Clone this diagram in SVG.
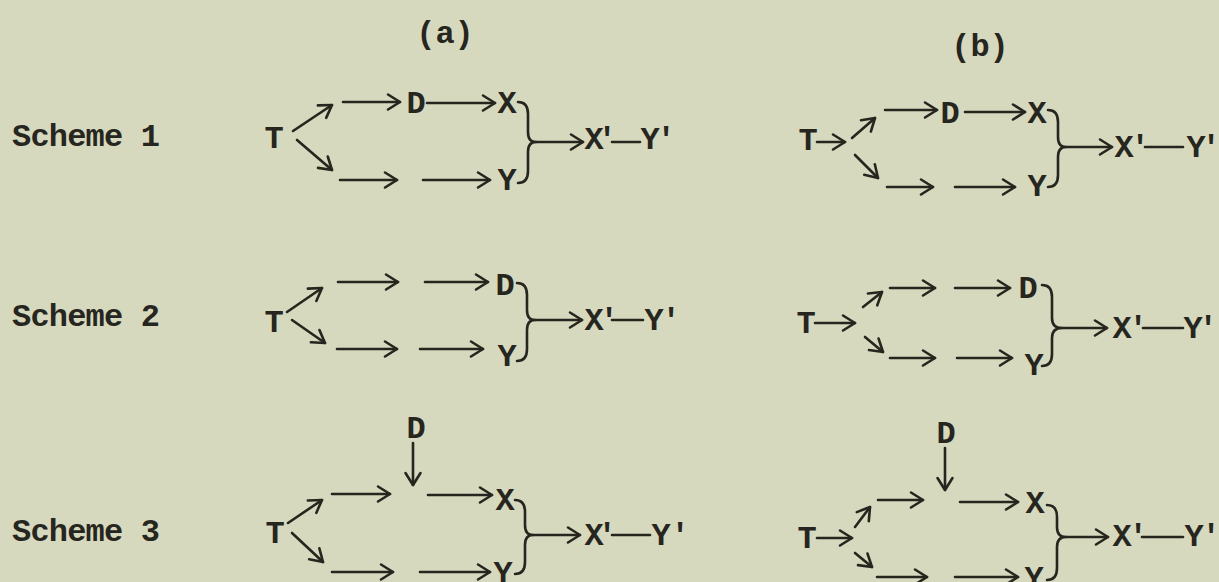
<svg xmlns="http://www.w3.org/2000/svg" width="1219" height="582" viewBox="0 0 1219 582">
<style>
text{font-family:"Liberation Mono","DejaVu Sans Mono",monospace;font-size:32px;font-weight:bold;fill:#26261f}
.n{text-anchor:middle}
.l{letter-spacing:-0.8px}
.c{stroke:#26261f;stroke-width:2.6;fill:none;stroke-linecap:round;stroke-linejoin:round}
.a{marker-end:url(#ah)}
</style>
<defs>
<marker id="ah" markerUnits="userSpaceOnUse" viewBox="-14 -10 16 20" markerWidth="16" markerHeight="20" refX="0" refY="0" orient="auto" overflow="visible">
<path d="M-12,-7.5 L0,0 L-12,7.5" fill="none" stroke="#26261f" stroke-width="2.6" stroke-linecap="round" stroke-linejoin="round"/>
</marker>
</defs>
<rect width="1219" height="582" fill="#d6d9be"/>
<g id="headers">
<text class="n" x="445" y="43">(a)</text>
<text class="n" x="980" y="56">(b)</text>
</g>
<g id="labels">
<text class="l" x="12" y="146">Scheme 1</text>
<text class="l" x="12" y="326">Scheme 2</text>
<text class="l" x="12" y="541">Scheme 3</text>
</g>
<!-- Scheme 1 (a) -->
<g id="s1a-T"><text class="n" x="274" y="148">T</text></g>
<g id="s1a-D"><text class="n" x="416" y="113">D</text></g>
<g id="s1a-X"><text class="n" x="507" y="113">X</text></g>
<g id="s1a-Y"><text class="n" x="507" y="190">Y</text></g>
<g id="s1a-XY"><text class="n"><tspan x="594" y="149">X</tspan><tspan x="607" y="149">'</tspan><tspan x="650" y="149">Y</tspan><tspan x="666" y="149">'</tspan></text></g>
<!-- Scheme 1 (b) -->
<g id="s1b-T"><text class="n" x="808" y="150">T</text></g>
<g id="s1b-D"><text class="n" x="950" y="123">D</text></g>
<g id="s1b-X"><text class="n" x="1037" y="123">X</text></g>
<g id="s1b-Y"><text class="n" x="1037" y="196">Y</text></g>
<g id="s1b-XY"><text class="n"><tspan x="1124" y="157">X</tspan><tspan x="1140" y="157">'</tspan><tspan x="1196" y="157">Y</tspan><tspan x="1211" y="157">'</tspan></text></g>
<!-- Scheme 2 (a) -->
<g id="s2a-T"><text class="n" x="274" y="332">T</text></g>
<g id="s2a-D"><text class="n" x="505" y="295">D</text></g>
<g id="s2a-Y"><text class="n" x="507" y="366">Y</text></g>
<g id="s2a-XY"><text class="n"><tspan x="594" y="330">X</tspan><tspan x="609" y="330">'</tspan><tspan x="654" y="330">Y</tspan><tspan x="671" y="330">'</tspan></text></g>
<!-- Scheme 2 (b) -->
<g id="s2b-T"><text class="n" x="806" y="333">T</text></g>
<g id="s2b-D"><text class="n" x="1028" y="298">D</text></g>
<g id="s2b-Y"><text class="n" x="1034" y="375">Y</text></g>
<g id="s2b-XY"><text class="n"><tspan x="1122" y="338">X</tspan><tspan x="1138" y="338">'</tspan><tspan x="1193" y="338">Y</tspan><tspan x="1208" y="338">'</tspan></text></g>
<!-- Scheme 3 (a) -->
<g id="s3a-D"><text class="n" x="416" y="438">D</text></g>
<g id="s3a-X"><text class="n" x="505" y="510">X</text></g>
<g id="s3a-T"><text class="n" x="275" y="543">T</text></g>
<g id="s3a-Y"><text class="n" x="503" y="583">Y</text></g>
<g id="s3a-XY"><text class="n"><tspan x="594" y="545">X</tspan><tspan x="607" y="545">'</tspan><tspan x="661" y="545">Y</tspan><tspan x="680" y="545">'</tspan></text></g>
<!-- Scheme 3 (b) -->
<g id="s3b-D"><text class="n" x="946" y="443">D</text></g>
<g id="s3b-X"><text class="n" x="1035" y="513">X</text></g>
<g id="s3b-T"><text class="n" x="807" y="548">T</text></g>
<g id="s3b-Y"><text class="n" x="1034" y="588">Y</text></g>
<g id="s3b-XY"><text class="n"><tspan x="1122" y="546">X</tspan><tspan x="1138" y="546">'</tspan><tspan x="1194" y="546">Y</tspan><tspan x="1211" y="546">'</tspan></text></g>
<g id="connectors" class="c">
<!-- S1a -->
<line class="a" x1="293" y1="131" x2="332" y2="105"/>
<line class="a" x1="297" y1="140" x2="332" y2="170"/>
<line class="a" x1="343" y1="102" x2="400" y2="102"/>
<line class="a" x1="427" y1="103" x2="495" y2="103"/>
<line class="a" x1="340" y1="180" x2="397" y2="180"/>
<line class="a" x1="423" y1="180" x2="490" y2="180"/>
<path d="M518,102 Q528,102 528,114 L528,132 Q528,142 536,142 Q528,142 528,152 L528,171 Q528,183 518,183"/>
<line class="a" x1="536" y1="142" x2="583" y2="142"/>
<line x1="612" y1="142" x2="640" y2="142"/>
<!-- S1b -->
<line class="a" x1="817" y1="142" x2="845" y2="142"/>
<line class="a" x1="852" y1="138" x2="875" y2="118"/>
<line class="a" x1="855" y1="155" x2="878" y2="178"/>
<line class="a" x1="885" y1="110" x2="937" y2="110"/>
<line class="a" x1="965" y1="112" x2="1025" y2="112"/>
<line class="a" x1="887" y1="187" x2="933" y2="187"/>
<line class="a" x1="955" y1="187" x2="1015" y2="187"/>
<path d="M1048,110 Q1058,110 1058,122 L1058,137 Q1058,147 1066,147 Q1058,147 1058,157 L1058,175 Q1058,187 1048,187"/>
<line class="a" x1="1066" y1="147" x2="1112" y2="147"/>
<line x1="1145" y1="147" x2="1183" y2="147"/>
<!-- S2a -->
<line class="a" x1="287" y1="312" x2="322" y2="288"/>
<line class="a" x1="292" y1="320" x2="325" y2="343"/>
<line class="a" x1="338" y1="282" x2="398" y2="282"/>
<line class="a" x1="425" y1="282" x2="488" y2="282"/>
<line class="a" x1="337" y1="349" x2="397" y2="349"/>
<line class="a" x1="420" y1="349" x2="483" y2="349"/>
<path d="M517,283 Q527,283 527,295 L527,310 Q527,320 535,320 Q527,320 527,330 L527,349 Q527,361 517,361"/>
<line class="a" x1="535" y1="320" x2="582" y2="320"/>
<line x1="612" y1="320" x2="643" y2="320"/>
<!-- S2b -->
<line class="a" x1="815" y1="323" x2="855" y2="323"/>
<line class="a" x1="863" y1="307" x2="882" y2="292"/>
<line class="a" x1="865" y1="337" x2="883" y2="352"/>
<line class="a" x1="890" y1="288" x2="935" y2="288"/>
<line class="a" x1="955" y1="288" x2="1010" y2="288"/>
<line class="a" x1="890" y1="358" x2="935" y2="358"/>
<line class="a" x1="957" y1="358" x2="1012" y2="358"/>
<path d="M1042,285 Q1052,285 1052,297 L1052,318 Q1052,328 1062,328 Q1052,328 1052,338 L1052,354 Q1052,366 1042,366"/>
<line class="a" x1="1062" y1="328" x2="1107" y2="328"/>
<line x1="1143" y1="328" x2="1183" y2="328"/>
<!-- S3a -->
<line class="a" x1="413" y1="443" x2="413" y2="485"/>
<line class="a" x1="332" y1="494" x2="390" y2="494"/>
<line class="a" x1="428" y1="495" x2="492" y2="495"/>
<line class="a" x1="288" y1="523" x2="322" y2="500"/>
<line class="a" x1="292" y1="533" x2="323" y2="562"/>
<line class="a" x1="332" y1="572" x2="393" y2="572"/>
<line class="a" x1="420" y1="572" x2="490" y2="572"/>
<path d="M515,500 Q525,500 525,512 L525,525 Q525,535 533,535 Q525,535 525,545 L525,562 Q525,574 515,574"/>
<line class="a" x1="533" y1="535" x2="580" y2="535"/>
<line x1="612" y1="535" x2="650" y2="535"/>
<!-- S3b -->
<line class="a" x1="945" y1="448" x2="945" y2="490"/>
<line class="a" x1="878" y1="500" x2="923" y2="500"/>
<line class="a" x1="960" y1="502" x2="1018" y2="502"/>
<line class="a" x1="817" y1="538" x2="852" y2="538"/>
<line class="a" x1="855" y1="527" x2="870" y2="507"/>
<line class="a" x1="855" y1="553" x2="872" y2="567"/>
<line class="a" x1="877" y1="577" x2="927" y2="577"/>
<line class="a" x1="955" y1="577" x2="1018" y2="577"/>
<path d="M1047,505 Q1057,505 1057,517 L1057,527 Q1057,537 1066,537 Q1057,537 1057,547 L1057,568 Q1057,580 1047,580"/>
<line class="a" x1="1066" y1="537" x2="1108" y2="537"/>
<line x1="1142" y1="537" x2="1183" y2="537"/>
</g>
</svg>
